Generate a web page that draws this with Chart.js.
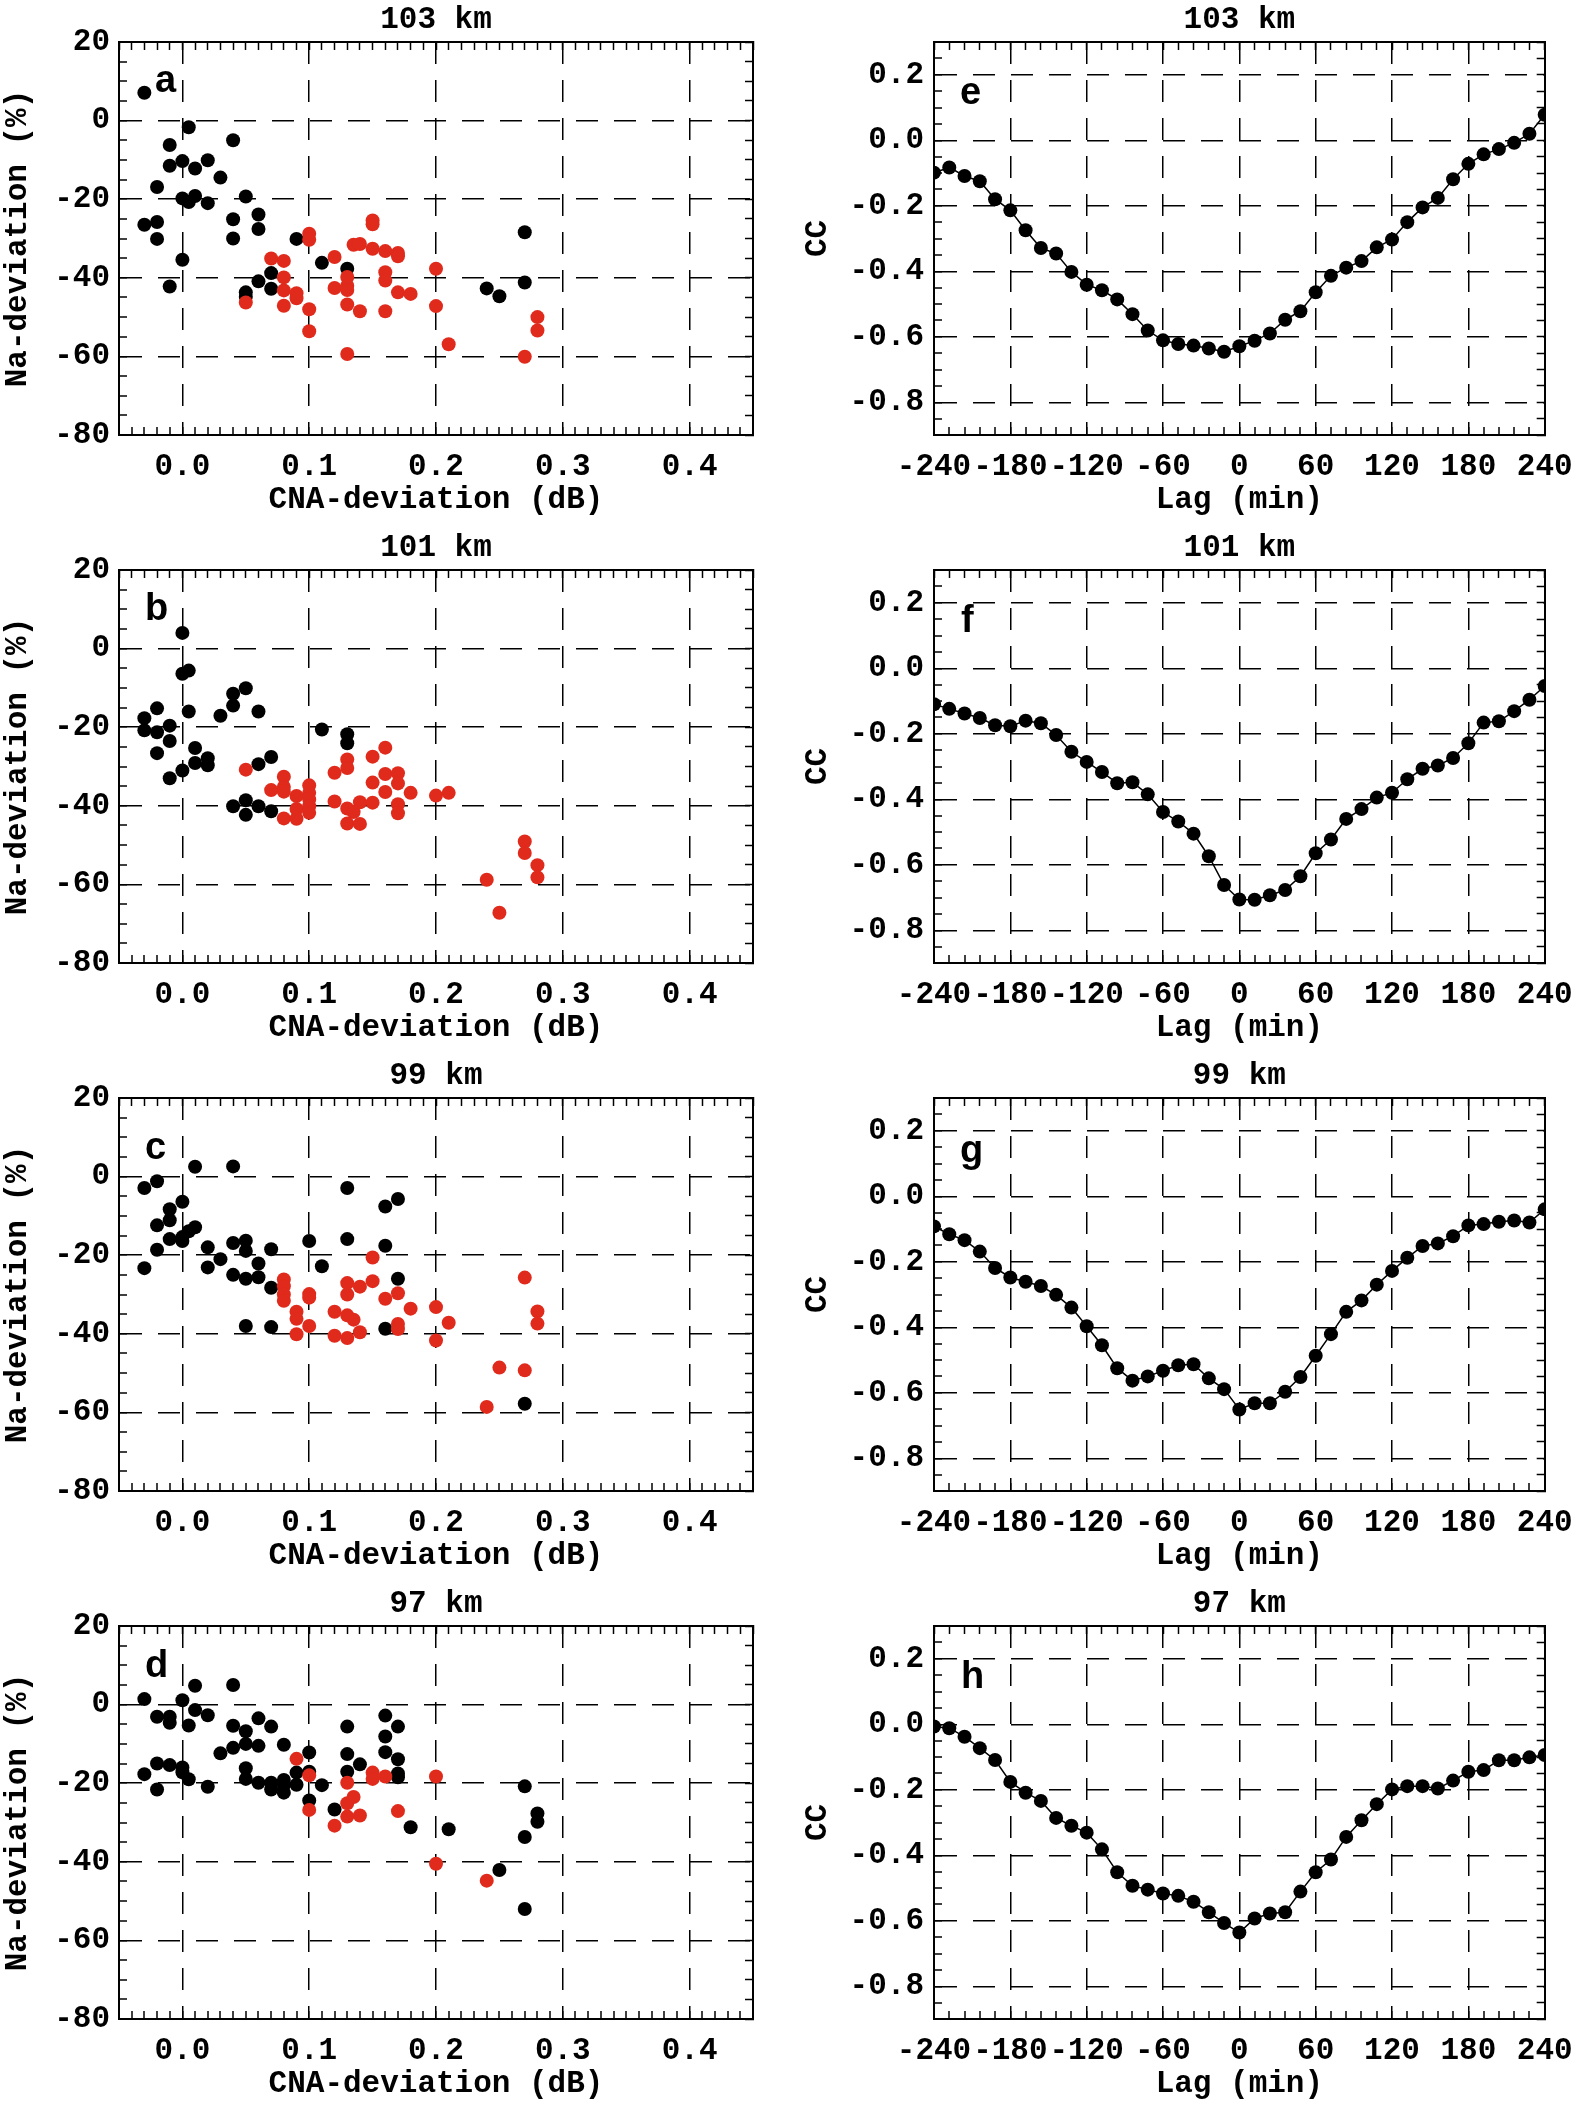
<!DOCTYPE html>
<html>
<head>
<meta charset="utf-8">
<script src="https://cdn.jsdelivr.net/npm/chart.js@4.4.0/dist/chart.umd.min.js"></script>
<style>
  html, body { margin: 0; padding: 0; background: #fff; overflow: hidden; }
  #fig { position: relative; width: 1594px; height: 2103px; background: #fff; overflow: hidden; }
  #fig canvas { position: absolute; }
</style>
</head>
<body>
<div id="fig"></div>
<script>
// lag (min) for the cross-correlation panels e-h
const lags = [-240, -228, -216, -204, -192, -180, -168, -156, -144, -132, -120, -108, -96, -84, -72, -60, -48, -36, -24, -12,
  0, 12, 24, 36, 48, 60, 72, 84, 96, 108, 120, 132, 144, 156, 168, 180, 192, 204, 216, 228, 240];

// CC values, one per lag
const ccE = [-0.099, -0.083, -0.109, -0.125, -0.180, -0.214, -0.275, -0.329, -0.346, -0.402, -0.441, -0.458, -0.486, -0.531, -0.581, -0.611, -0.622, -0.627, -0.636, -0.646,
  -0.629, -0.612, -0.590, -0.548, -0.522, -0.464, -0.414, -0.389, -0.369, -0.327, -0.303, -0.250, -0.205, -0.176, -0.119, -0.072, -0.043, -0.027, -0.008, 0.020, 0.078];
const ccF = [-0.110, -0.124, -0.138, -0.152, -0.174, -0.177, -0.160, -0.168, -0.204, -0.255, -0.286, -0.317, -0.351, -0.348, -0.385, -0.439, -0.468, -0.505, -0.574, -0.662,
  -0.706, -0.707, -0.693, -0.677, -0.635, -0.565, -0.523, -0.460, -0.430, -0.395, -0.380, -0.339, -0.307, -0.297, -0.274, -0.229, -0.166, -0.162, -0.131, -0.096, -0.054];
const ccG = [-0.092, -0.116, -0.134, -0.169, -0.219, -0.248, -0.261, -0.274, -0.301, -0.340, -0.397, -0.455, -0.525, -0.563, -0.550, -0.533, -0.516, -0.513, -0.556, -0.589,
  -0.651, -0.632, -0.632, -0.597, -0.552, -0.487, -0.421, -0.353, -0.318, -0.270, -0.228, -0.188, -0.152, -0.144, -0.122, -0.089, -0.085, -0.078, -0.074, -0.080, -0.040];
const ccH = [-0.007, -0.012, -0.038, -0.073, -0.109, -0.176, -0.209, -0.234, -0.286, -0.310, -0.331, -0.382, -0.452, -0.493, -0.505, -0.517, -0.524, -0.542, -0.574, -0.607,
  -0.636, -0.593, -0.578, -0.574, -0.511, -0.452, -0.413, -0.344, -0.293, -0.244, -0.199, -0.189, -0.189, -0.196, -0.172, -0.145, -0.140, -0.110, -0.110, -0.101, -0.094];

// scatter panels a-d: CNA-deviation (dB) vs Na-deviation (%)
const aBlackX = [-0.03, -0.03, -0.02, -0.02, -0.02, -0.01, -0.01, -0.01, 0, 0, 0, 0.005, 0.005, 0.01, 0.01, 0.02, 0.02, 0.03, 0.04, 0.04, 0.04, 0.05, 0.05, 0.05, 0.06, 0.06, 0.06, 0.07, 0.07, 0.09, 0.11, 0.13, 0.24, 0.25, 0.27, 0.27];
const aBlackY = [7.1, -26.5, -16.9, -25.8, -30.1, -6.2, -11.5, -42.2, -10.3, -19.8, -35.4, -1.7, -20.7, -12.2, -19.2, -10.1, -21.0, -14.5, -5.0, -25.1, -30.0, -19.3, -43.7, -44.8, -23.9, -27.6, -40.9, -38.8, -42.8, -30.1, -36.2, -37.7, -42.7, -44.7, -28.4, -41.2];
const aRedX = [0.05, 0.07, 0.08, 0.08, 0.08, 0.08, 0.09, 0.09, 0.1, 0.1, 0.1, 0.1, 0.12, 0.12, 0.13, 0.13, 0.13, 0.13, 0.13, 0.135, 0.14, 0.14, 0.15, 0.15, 0.15, 0.16, 0.16, 0.16, 0.16, 0.17, 0.17, 0.17, 0.18, 0.2, 0.2, 0.21, 0.27, 0.28, 0.28];
const aRedY = [-46.3, -35.1, -35.7, -39.9, -43.2, -47.1, -43.9, -45.2, -28.8, -30.3, -48.0, -53.6, -34.7, -42.6, -39.8, -42.0, -43.1, -46.8, -59.4, -31.6, -31.4, -48.5, -25.4, -26.4, -32.6, -33.2, -38.6, -40.7, -48.5, -33.7, -34.5, -43.7, -44.1, -37.7, -47.2, -56.9, -60.1, -50.0, -53.4];

const bBlackX = [-0.03, -0.03, -0.02, -0.02, -0.02, -0.01, -0.01, -0.01, 0, 0, 0, 0.005, 0.005, 0.01, 0.01, 0.02, 0.02, 0.03, 0.04, 0.04, 0.04, 0.05, 0.05, 0.05, 0.06, 0.06, 0.06, 0.07, 0.07, 0.11, 0.13, 0.13];
const bBlackY = [-17.7, -20.8, -15.2, -21.3, -26.6, -19.6, -23.5, -33.0, 4.0, -6.4, -31.0, -5.6, -16.0, -25.3, -29.1, -27.9, -29.7, -17.1, -11.5, -14.5, -40.1, -10.1, -38.6, -42.3, -16.0, -29.4, -40.1, -27.6, -41.4, -20.6, -21.8, -24.1];
const bRedX = [0.05, 0.07, 0.08, 0.08, 0.08, 0.08, 0.09, 0.09, 0.09, 0.1, 0.1, 0.1, 0.1, 0.1, 0.12, 0.12, 0.13, 0.13, 0.13, 0.13, 0.135, 0.14, 0.14, 0.15, 0.15, 0.15, 0.16, 0.16, 0.16, 0.17, 0.17, 0.17, 0.17, 0.18, 0.2, 0.21, 0.24, 0.25, 0.27, 0.27, 0.28, 0.28];
const bRedY = [-30.8, -36.0, -32.6, -35.2, -36.4, -43.2, -37.5, -40.8, -43.3, -34.8, -36.7, -38.4, -40.1, -41.8, -31.6, -38.9, -28.2, -30.4, -40.7, -44.5, -41.6, -39.1, -44.6, -27.5, -34.1, -39.2, -25.2, -31.9, -36.5, -31.7, -34.3, -39.6, -41.9, -36.7, -37.4, -36.7, -58.8, -67.2, -49.1, -52.0, -55.1, -58.2];

const cBlackX = [-0.03, -0.03, -0.02, -0.02, -0.02, -0.01, -0.01, -0.01, 0, 0, 0, 0.005, 0.01, 0.01, 0.02, 0.02, 0.03, 0.04, 0.04, 0.04, 0.05, 0.05, 0.05, 0.05, 0.06, 0.06, 0.07, 0.07, 0.07, 0.1, 0.11, 0.13, 0.13, 0.16, 0.16, 0.16, 0.17, 0.17, 0.27];
const cBlackY = [-2.9, -23.3, -1.2, -12.4, -18.6, -8.3, -11.1, -15.9, -6.4, -15.4, -16.4, -13.9, 2.5, -12.9, -18.0, -23.1, -21.0, 2.6, -16.9, -25.0, -16.3, -18.9, -26.0, -38.0, -22.1, -25.6, -18.5, -28.3, -38.3, -16.4, -22.8, -2.9, -15.9, -7.6, -17.6, -38.7, -5.7, -26.0, -57.8];
const cRedX = [0.08, 0.08, 0.08, 0.08, 0.09, 0.09, 0.09, 0.1, 0.1, 0.1, 0.12, 0.12, 0.13, 0.13, 0.13, 0.13, 0.135, 0.14, 0.14, 0.15, 0.15, 0.16, 0.17, 0.17, 0.17, 0.18, 0.2, 0.2, 0.21, 0.24, 0.25, 0.27, 0.27, 0.28, 0.28];
const cRedY = [-26.2, -27.9, -30.0, -31.6, -34.4, -36.2, -40.1, -29.9, -30.8, -38.0, -34.4, -40.5, -27.1, -30.0, -35.3, -41.1, -36.4, -28.0, -39.6, -20.6, -26.6, -31.1, -29.7, -37.5, -38.8, -33.6, -33.2, -41.7, -37.2, -58.6, -48.6, -25.7, -49.3, -34.3, -37.4];

const dBlackX = [-0.03, -0.03, -0.02, -0.02, -0.02, -0.01, -0.01, -0.01, 0, 0, 0, 0.005, 0.005, 0.01, 0.01, 0.02, 0.02, 0.03, 0.04, 0.04, 0.04, 0.05, 0.05, 0.05, 0.05, 0.06, 0.06, 0.06, 0.07, 0.07, 0.07,
  0.08, 0.08, 0.08, 0.08, 0.09, 0.09, 0.1, 0.1, 0.1, 0.11, 0.12, 0.13, 0.13, 0.13, 0.14, 0.16, 0.16, 0.16, 0.17, 0.17, 0.17, 0.17, 0.18, 0.21, 0.25, 0.27, 0.27, 0.27, 0.28, 0.28];
const dBlackY = [1.4, -17.7, -3.1, -15.0, -21.6, -3.1, -4.6, -15.4, 1.1, -16.0, -17.2, -5.3, -19.0, 4.8, -1.4, -2.7, -20.9, -12.4, 5.0, -5.4, -11.0, -6.8, -10.0, -16.2, -18.9, -3.5, -10.5, -19.9, -5.6, -19.9, -21.6,
  -10.2, -19.2, -20.5, -22.4, -17.3, -20.4, -12.2, -17.1, -24.4, -20.5, -26.7, -5.6, -12.6, -17.1, -15.2, -2.8, -8.1, -12.1, -5.6, -13.9, -17.5, -18.5, -31.2, -31.7, -42.1, -20.8, -33.7, -52.0, -27.7, -29.8];
const dRedX = [0.09, 0.1, 0.1, 0.12, 0.13, 0.13, 0.13, 0.135, 0.14, 0.15, 0.15, 0.16, 0.17, 0.2, 0.2, 0.24];
const dRedY = [-13.8, -18.0, -26.8, -30.8, -19.9, -25.1, -28.5, -23.5, -28.2, -17.3, -18.9, -18.3, -27.1, -18.3, -40.5, -44.8];

const RED = '#e02a1c';
const FONT = { family: "'Liberation Mono', 'DejaVu Sans Mono', monospace", size: 31, weight: 'bold' };
const DASH = [22, 16];

const fig = document.getElementById('fig');

function isMult(v, step) {
  const r = v / step;
  return Math.abs(r - Math.round(r)) < 1e-6;
}

function pts(xs, ys) {
  return xs.map((x, i) => ({ x: x, y: ys[i] }));
}

// main axis: labels + dashed grid at major steps, inward minor ticks at every minor step
function mainAxis(pos, min, max, minor, major, fmt, text, size, pad) {
  const horiz = pos === 'bottom';
  return {
    type: 'linear', position: pos, min: min, max: max,
    afterFit: (s) => { if (horiz) s.height = size; else s.width = size; },
    ticks: {
      stepSize: minor, autoSkip: false, maxRotation: 0, minRotation: 0,
      padding: pad, color: '#000', font: FONT,
      callback: (v) => isMult(v, major) ? fmt(v) : ''
    },
    grid: {
      drawTicks: true, tickLength: -8, tickColor: '#000', tickWidth: 1.5,
      color: '#000',
      lineWidth: (ctx) => {
        const t = ctx.tick;
        if (!t) return 0;
        if (Math.abs(t.value - min) < 1e-9 || Math.abs(t.value - max) < 1e-9) return 0;
        return isMult(t.value, major) ? 1.5 : 0;
      }
    },
    border: { display: true, color: '#000', width: 2, dash: DASH },
    title: { display: true, text: text, color: '#000', font: FONT, padding: 0 }
  };
}

// frame axis on the opposite side: only inward ticks (top one carries the panel title)
function frameAxis(pos, min, max, minor, titleText) {
  const horiz = pos === 'top';
  return {
    type: 'linear', position: pos, min: min, max: max,
    afterFit: (s) => { if (horiz) s.height = 42; else s.width = 0; },
    ticks: { display: false, stepSize: minor, autoSkip: false, maxRotation: 0 },
    grid: { drawOnChartArea: false, drawTicks: true, tickLength: -8, tickColor: '#000', tickWidth: 1.5 },
    border: { display: true, color: '#000', width: 2 },
    title: { display: !!titleText, text: titleText || '', color: '#000', font: FONT, padding: { top: 1.4, bottom: 0 } }
  };
}

const panelLetter = {
  id: 'panelLetter',
  afterDatasetsDraw(chart, args, opts) {
    const { ctx, chartArea } = chart;
    ctx.save();
    ctx.font = "bold 38px 'Liberation Sans', Arial, sans-serif";
    ctx.fillStyle = '#000';
    ctx.textBaseline = 'alphabetic';
    ctx.fillText(opts.text, chartArea.left + opts.dx, chartArea.top + opts.dy);
    ctx.restore();
  }
};

function makeCanvas(col, row) {
  const c = document.createElement('canvas');
  c.width = col === 0 ? 790 : 794;
  c.height = 519;
  c.style.left = (col === 0 ? 0 : 800) + 'px';
  c.style.top = (row * 528) + 'px';
  fig.appendChild(c);
  return c;
}

function commonPlugins(letter) {
  return {
    legend: { display: false },
    tooltip: { enabled: false },
    title: { display: false },
    panelLetter: letter
  };
}

const scatterPanels = [
  { title: '103 km', row: 0, bx: aBlackX, by: aBlackY, rx: aRedX, ry: aRedY, letter: { text: 'a', dx: 36, dy: 50 } },
  { title: '101 km', row: 1, bx: bBlackX, by: bBlackY, rx: bRedX, ry: bRedY, letter: { text: 'b', dx: 26, dy: 50 } },
  { title: '99 km', row: 2, bx: cBlackX, by: cBlackY, rx: cRedX, ry: cRedY, letter: { text: 'c', dx: 26, dy: 61 } },
  { title: '97 km', row: 3, bx: dBlackX, by: dBlackY, rx: dRedX, ry: dRedY, letter: { text: 'd', dx: 26, dy: 51 } }
];

const ccPanels = [
  { title: '103 km', row: 0, cc: ccE, letter: { text: 'e', dx: 26, dy: 62 } },
  { title: '101 km', row: 1, cc: ccF, letter: { text: 'f', dx: 27, dy: 62 } },
  { title: '99 km', row: 2, cc: ccG, letter: { text: 'g', dx: 26, dy: 64 } },
  { title: '97 km', row: 3, cc: ccH, letter: { text: 'h', dx: 27, dy: 62 } }
];

scatterPanels.forEach((p) => {
  new Chart(makeCanvas(0, p.row), {
    type: 'scatter',
    data: {
      datasets: [
        { data: pts(p.rx, p.ry), backgroundColor: RED, borderWidth: 0, pointRadius: 7, order: 0 },
        { data: pts(p.bx, p.by), backgroundColor: '#000', borderWidth: 0, pointRadius: 7, order: 1 }
      ]
    },
    options: {
      responsive: false, animation: false, devicePixelRatio: 1,
      layout: { padding: { left: 0, right: 37, top: 0, bottom: 0 } },
      scales: {
        x: mainAxis('bottom', -0.05, 0.45, 0.01, 0.1, (v) => v.toFixed(1), 'CNA-deviation (dB)', 84, 21.4),
        y: mainAxis('left', -80, 20, 5, 20, (v) => String(Math.round(v)), 'Na-deviation (%)', 119, 17),
        x2: frameAxis('top', -0.05, 0.45, 0.01, p.title),
        y2: frameAxis('right', -80, 20, 5)
      },
      plugins: commonPlugins(p.letter)
    },
    plugins: [panelLetter]
  });
});

ccPanels.forEach((p) => {
  new Chart(makeCanvas(1, p.row), {
    type: 'line',
    data: {
      datasets: [{
        data: pts(lags, p.cc), borderColor: '#000', borderWidth: 1.5,
        pointBackgroundColor: '#000', pointBorderWidth: 0, pointRadius: 7, tension: 0
      }]
    },
    options: {
      responsive: false, animation: false, devicePixelRatio: 1,
      layout: { padding: { left: 0, right: 29, top: 0, bottom: 0 } },
      scales: {
        x: mainAxis('bottom', -240, 240, 12, 60, (v) => String(Math.round(v)), 'Lag (min)', 84, 21.4),
        y: mainAxis('left', -0.9, 0.3, 0.05, 0.2, (v) => (Math.abs(v) < 1e-9 ? 0 : v).toFixed(1), 'CC', 134, 18),
        x2: frameAxis('top', -240, 240, 12, p.title),
        y2: frameAxis('right', -0.9, 0.3, 0.05)
      },
      plugins: commonPlugins(p.letter)
    },
    plugins: [panelLetter]
  });
});
</script>
</body>
</html>
